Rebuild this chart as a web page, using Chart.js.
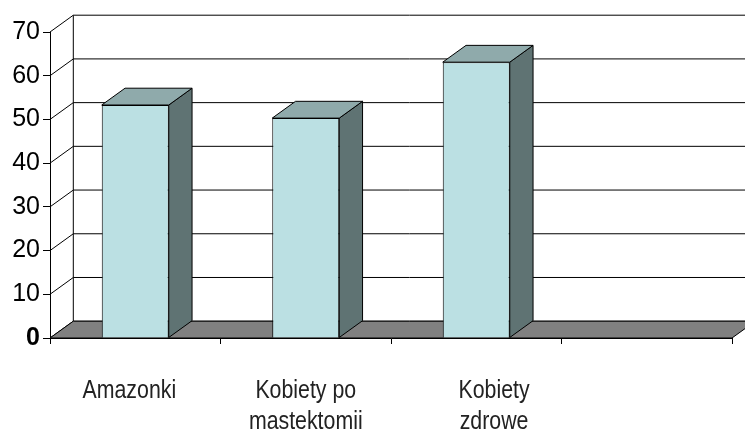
<!DOCTYPE html>
<html>
<head>
<meta charset="utf-8">
<script src="https://cdn.jsdelivr.net/npm/chart.js@4/dist/chart.umd.min.js"></script>
<style>
  html, body { margin: 0; padding: 0; background: #fff; }
  #wrap { width: 745px; height: 433px; position: relative; }
</style>
</head>
<body>
<div id="wrap"><canvas id="c" width="745" height="433"></canvas></div>
<script>
// ---- data ----
const categories = ['Amazonki  ', ['Kobiety po', 'mastektomii'], ['      Kobiety', '      zdrowe'], ''];
const values = [53.3, 50.3, 63.1, null];
const yMin = 0;
const yMax = 70;
const yStep = 10;

// ---- style ----
const DEPTH_X = 23.3;
const DEPTH_Y = -16.8;
const FRONT = '#BBE0E3';
const TOP = '#8FAAAB';
const SIDE = '#5F7373';
const FLOOR = '#808080';
const LABEL_FONT = "26px 'Liberation Sans', Arial, sans-serif";
const LABEL_SQUEEZE = 0.82;

const threeD = {
  id: 'threeD',
  beforeDatasetsDraw(chart) {
    const ctx = chart.ctx;
    const xs = chart.scales.x, ys = chart.scales.y;
    const L = xs.left, R = xs.right;
    const y0 = ys.getPixelForValue(yMin);
    const yT = ys.getPixelForValue(yMax);
    ctx.save();
    ctx.lineWidth = 1;
    ctx.strokeStyle = '#000';
    ys.ticks.forEach(t => {
      const yp = ys.getPixelForValue(t.value);
      ctx.beginPath();
      ctx.moveTo(L + DEPTH_X, yp + DEPTH_Y);
      ctx.lineTo(R + DEPTH_X, yp + DEPTH_Y);
      ctx.stroke();
      ctx.beginPath();
      ctx.moveTo(L, yp);
      ctx.lineTo(L + DEPTH_X, yp + DEPTH_Y);
      ctx.stroke();
    });
    ctx.beginPath();
    ctx.moveTo(L + DEPTH_X, yT + DEPTH_Y);
    ctx.lineTo(L + DEPTH_X, y0 + DEPTH_Y);
    ctx.stroke();
    ctx.beginPath();
    ctx.moveTo(L, y0);
    ctx.lineTo(R, y0);
    ctx.lineTo(R + DEPTH_X, y0 + DEPTH_Y);
    ctx.lineTo(L + DEPTH_X, y0 + DEPTH_Y);
    ctx.closePath();
    ctx.fillStyle = FLOOR;
    ctx.fill();
    ctx.stroke();
    ctx.restore();
  },
  afterDatasetsDraw(chart) {
    const ctx = chart.ctx;
    ctx.save();
    ctx.lineWidth = 1;
    ctx.strokeStyle = '#000';
    chart.getDatasetMeta(0).data.forEach((bar, i) => {
      if (values[i] == null) return;
      const p = bar.getProps(['x', 'y', 'base', 'width'], true);
      const xl = p.x - p.width / 2, xr = p.x + p.width / 2;
      ctx.beginPath();
      ctx.moveTo(xr, p.y);
      ctx.lineTo(xr + DEPTH_X, p.y + DEPTH_Y);
      ctx.lineTo(xr + DEPTH_X, p.base + DEPTH_Y);
      ctx.lineTo(xr, p.base);
      ctx.closePath();
      ctx.fillStyle = SIDE;
      ctx.fill();
      ctx.stroke();
      ctx.beginPath();
      ctx.moveTo(xl, p.y);
      ctx.lineTo(xr, p.y);
      ctx.lineTo(xr + DEPTH_X, p.y + DEPTH_Y);
      ctx.lineTo(xl + DEPTH_X, p.y + DEPTH_Y);
      ctx.closePath();
      ctx.fillStyle = TOP;
      ctx.fill();
      ctx.stroke();
    });
    ctx.restore();
  },
  afterDraw(chart) {
    const ctx = chart.ctx;
    const xs = chart.scales.x;
    ctx.save();
    ctx.font = LABEL_FONT;
    ctx.fillStyle = '#222';
    ctx.textAlign = 'center';
    ctx.textBaseline = 'alphabetic';
    categories.forEach((lab, i) => {
      const lines = Array.isArray(lab) ? lab : [lab];
      const cx = xs.getPixelForTick(i);
      lines.forEach((ln, j) => {
        ctx.save();
        ctx.translate(cx, xs.top + 60 + j * 31);
        ctx.scale(LABEL_SQUEEZE, 1);
        ctx.fillText(ln, 0, 0);
        ctx.restore();
      });
    });
    ctx.restore();
  }
};

new Chart(document.getElementById('c'), {
  type: 'bar',
  data: {
    labels: categories,
    datasets: [{
      data: values,
      backgroundColor: FRONT,
      borderColor: '#000',
      borderWidth: 1,
      categoryPercentage: 1,
      barPercentage: 0.393
    }]
  },
  options: {
    responsive: false,
    animation: false,
    events: [],
    layout: { padding: { top: 32, right: 13, left: 0, bottom: 0 } },
    plugins: { legend: { display: false }, tooltip: { enabled: false } },
    scales: {
      x: {
        afterFit(s) { s.height = 95; },
        grid: { display: true, drawOnChartArea: false, offset: true, tickLength: 6, color: '#000' },
        border: { display: true, color: '#000' },
        ticks: { display: false, autoSkip: false, maxRotation: 0, minRotation: 0 }
      },
      y: {
        min: yMin, max: yMax,
        afterFit(s) { s.width = 50; },
        grid: { display: true, drawOnChartArea: false, tickLength: 7, color: '#000' },
        border: { display: true, color: '#000' },
        ticks: {
          stepSize: yStep,
          color: '#000',
          padding: 3,
          font: (c) => ({ family: "'Liberation Sans', Arial, sans-serif", size: 25, weight: (c.tick && c.tick.value === 0) ? 'bold' : 'normal' })
        }
      }
    }
  },
  plugins: [threeD]
});
</script>
</body>
</html>
